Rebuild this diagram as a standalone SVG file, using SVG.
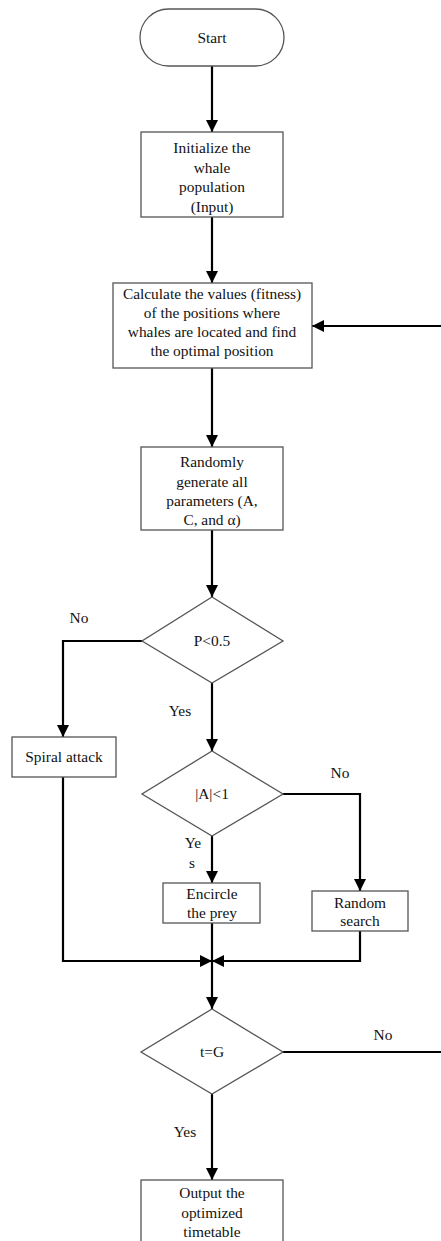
<svg xmlns="http://www.w3.org/2000/svg" width="441" height="1241" viewBox="0 0 441 1241">
<style>
.box{fill:#fff;stroke:#555;stroke-width:1.3}
.c{fill:none;stroke:#000;stroke-width:2.2}
.m{text-anchor:middle}
</style>
<defs>
<marker id="ah" viewBox="0 0 12 12" markerWidth="12" markerHeight="12" refX="12" refY="6" orient="auto" markerUnits="userSpaceOnUse">
<path d="M0,0 L12,6 L0,12 z" fill="#000"/>
</marker>
</defs>
<rect width="441" height="1241" fill="#fff"/>
<g font-family="'Liberation Serif', 'DejaVu Serif', serif" font-size="15.4" fill="#111">
<g id="connectors">
<line class="c" x1="212" y1="66" x2="212" y2="132" marker-end="url(#ah)"/>
<line class="c" x1="212" y1="217" x2="212" y2="283" marker-end="url(#ah)"/>
<line class="c" x1="441" y1="326" x2="312" y2="326" marker-end="url(#ah)"/>
<line class="c" x1="212" y1="368" x2="212" y2="447" marker-end="url(#ah)"/>
<line class="c" x1="212" y1="530" x2="212" y2="597" marker-end="url(#ah)"/>
<polyline class="c" points="142,641 63,641 63,737" marker-end="url(#ah)"/>
<line class="c" x1="212" y1="683" x2="212" y2="751" marker-end="url(#ah)"/>
<polyline class="c" points="283,794 360,794 360,891" marker-end="url(#ah)"/>
<line class="c" x1="212" y1="836" x2="212" y2="883" marker-end="url(#ah)"/>
<polyline class="c" points="63,777 63,961 212,961" marker-end="url(#ah)"/>
<polyline class="c" points="360,931 360,961 212,961" marker-end="url(#ah)"/>
<line class="c" x1="212" y1="923" x2="212" y2="1009" marker-end="url(#ah)"/>
<line class="c" x1="283" y1="1052" x2="441" y2="1052"/>
<line class="c" x1="212" y1="1094" x2="212" y2="1180" marker-end="url(#ah)"/>
<text x="79" y="623" class="m">No</text>
<text x="180" y="716" class="m">Yes</text>
<text x="340" y="778" class="m">No</text>
<text x="193" y="848" class="m">Ye</text>
<text x="192" y="868" class="m">s</text>
<text x="383" y="1040" class="m">No</text>
<text x="185" y="1137" class="m">Yes</text>
</g>
<g id="start">
<rect class="box" x="140" y="9" width="144" height="57" rx="28.5"/>
<text x="212" y="43" class="m">Start</text>
</g>
<g id="init">
<rect class="box" x="141" y="132" width="142" height="85"/>
<text x="212" y="153" class="m">Initialize the</text>
<text x="212" y="173" class="m">whale</text>
<text x="212" y="192" class="m">population</text>
<text x="212" y="212" class="m">(Input)</text>
</g>
<g id="calc">
<rect class="box" x="113" y="283" width="199" height="85"/>
<text x="212" y="299" class="m">Calculate the values (fitness)</text>
<text x="212" y="318" class="m">of the positions where</text>
<text x="212" y="337" class="m">whales are located and find</text>
<text x="212" y="356" class="m">the optimal position</text>
</g>
<g id="random">
<rect class="box" x="141" y="447" width="142" height="83"/>
<text x="212" y="467" class="m">Randomly</text>
<text x="212" y="487" class="m">generate all</text>
<text x="212" y="506" class="m">parameters (A,</text>
<text x="212" y="525" class="m">C, and α)</text>
</g>
<g id="p05">
<polygon class="box" points="212,597 283,641 212,683 142,641"/>
<text x="212" y="646" class="m">P&lt;0.5</text>
</g>
<g id="spiral">
<rect class="box" x="12" y="737" width="104" height="40"/>
<text x="64" y="762" class="m">Spiral attack</text>
</g>
<g id="a1">
<polygon class="box" points="212,751 283,794 212,836 142,794"/>
<text x="212" y="799" class="m">|A|&lt;1</text>
</g>
<g id="encircle">
<rect class="box" x="163" y="883" width="97" height="40"/>
<text x="212" y="899" class="m">Encircle</text>
<text x="212" y="918" class="m">the prey</text>
</g>
<g id="randsearch">
<rect class="box" x="312" y="891" width="96" height="40"/>
<text x="360" y="908" class="m">Random</text>
<text x="360" y="926" class="m">search</text>
</g>
<g id="tg">
<polygon class="box" points="212,1009 283,1052 212,1094 141,1052"/>
<text x="212" y="1057" class="m">t=G</text>
</g>
<g id="output">
<rect class="box" x="141" y="1180" width="142" height="70"/>
<text x="212" y="1198" class="m">Output the</text>
<text x="212" y="1218" class="m">optimized</text>
<text x="212" y="1237" class="m">timetable</text>
</g>
</g>
</svg>
